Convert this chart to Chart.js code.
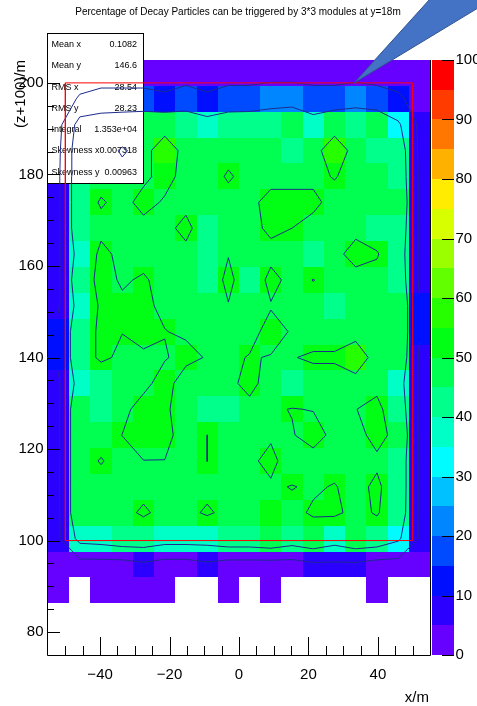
<!DOCTYPE html>
<html>
<head>
<meta charset="utf-8">
<title>Decay particles triggered by 3*3 modules</title>
<script src="https://cdn.jsdelivr.net/npm/chart.js@4.4.1/dist/chart.umd.min.js"></script>
<style>
    html, body { margin: 0; padding: 0; background: #ffffff; }
    canvas { display: block; }
</style>
</head>
<body>
<canvas id="decayMap" width="477" height="706"></canvas>
<script>
// histogram binning (x/m and (z+100)/m)
const xRange = [-55, 55];
const yRange = [75, 205];
const nBinsX = 18;
const nBinsY = 23;

// triggered percentage per bin, top row first, x running from -55 to 55 (0 = empty bin)
const percentRows = [
    [3, 3, 3, 3, 3, 3, 3, 3, 3, 3, 3, 3, 3, 3, 3, 3, 3, 3],
    [2.5, 11.5, 15, 15, 15, 12.5, 17.5, 12.5, 17.5, 17.5, 22.5, 22.5, 17.5, 17.5, 22.5, 17.5, 12.5, 4],
    [5, 38, 42, 44, 46, 46, 44, 38, 42, 43, 42, 46, 38, 46, 44, 46, 33, 7],
    [7, 44, 46, 51, 47, 55, 47, 47, 47, 47, 47, 43, 47, 55, 47, 43, 42, 7],
    [8, 44, 46, 47, 48, 53, 47, 46, 51, 47, 46, 47, 48, 50.5, 47, 46, 43, 8],
    [8, 44, 51, 47, 53, 49, 47, 46, 47, 47, 54, 53, 52, 47, 47, 47, 46, 8],
    [8, 44, 47, 47, 47, 47, 53, 43, 47, 47, 52, 50, 47, 47, 47, 43, 43, 8],
    [8, 38, 53, 47, 47, 47, 47, 43, 49.5, 47, 47, 47, 43, 47, 54, 51, 40, 8],
    [8, 44, 53, 49, 51, 47, 47, 42, 53, 42, 53, 47, 50.2, 47, 46, 46, 42, 8],
    [9, 38, 52, 51.5, 51.5, 48.5, 47, 47, 49.5, 47, 49.4, 47, 47, 42, 47, 47, 45, 11.5],
    [12.5, 44, 52, 50.2, 52, 50.2, 49, 47, 47, 47.1, 53, 49.3, 47, 47, 47, 47, 45, 11.5],
    [12.5, 44, 52, 48, 49, 49.5, 52, 49.5, 48.2, 50.5, 49.6, 49.7, 50.9, 50.9, 55, 46.5, 45, 8],
    [8, 38, 41, 47, 48, 53, 46, 47, 48.4, 52, 47, 43, 47, 47, 47, 47, 38, 8],
    [8, 47, 42, 48, 53, 51, 47, 43, 43, 48, 49, 50.3, 49.7, 47, 49.8, 53, 42, 8],
    [8, 47, 47, 50.1, 53, 52, 47, 50.05, 47, 47, 49, 49.5, 53, 48, 47, 53, 47, 8],
    [8, 47, 50.5, 47, 49.9, 49.9, 47, 50.05, 47, 48.6, 52, 46, 47, 47, 47, 48.3, 43, 8],
    [8, 47, 47, 47, 47, 47, 47, 47, 47, 47, 49, 50.3, 49, 50.5, 47, 52, 43, 8],
    [8, 47, 47, 47, 51.5, 47, 47, 51.5, 47, 47, 50, 48, 51, 52, 47, 51, 42, 8],
    [8, 36, 38, 42, 42, 38, 38, 38, 43, 43, 46, 40, 45, 38, 45, 43, 33, 9],
    [3, 3, 3, 3, 7, 3, 3, 7, 3, 3, 3, 3, 7, 7, 7, 3, 3, 3],
    [3, 0, 3, 3, 3, 3, 0, 0, 3, 0, 3, 0, 0, 0, 0, 3, 0, 0],
    [0, 0, 0, 0, 0, 0, 0, 0, 0, 0, 0, 0, 0, 0, 0, 0, 0, 0],
    [0, 0, 0, 0, 0, 0, 0, 0, 0, 0, 0, 0, 0, 0, 0, 0, 0, 0]
];

const contourLevels = [10, 30, 50];

// axis ticks
const xMajorTicks = [-40, -20, 0, 20, 40];
const yMajorTicks = [80, 100, 120, 140, 160, 180, 200];
const paletteTicks = [0, 10, 20, 30, 40, 50, 60, 70, 80, 90, 100];

// statistics box
const statNames = ['Mean x', 'Mean y', 'RMS x', 'RMS y', 'Integral', 'Skewness x', 'Skewness y'];
const statValues = ['0.1082', '146.6', '28.54', '28.23', '1.353e+04', '0.007318', '0.00963'];

// detector outline drawn over the map
const outlineX = [-50, 50, 50, -50, -50];
const outlineY = [100, 100, 200, 200, 100];

const FONT = '"Liberation Sans", Arial, sans-serif';
const xStep = (xRange[1] - xRange[0]) / nBinsX;
const yStep = (yRange[1] - yRange[0]) / nBinsY;
const xCenter = c => xRange[0] + (c + 0.5) * xStep;
const yCenter = r => yRange[0] + (r + 0.5) * yStep;
// r counts from the bottom row
const zAt = (r, c) => percentRows[nBinsY - 1 - r][c];

// 20 colour bands from violet (0) to red (100)
const paletteColor = v => {
    const band = Math.min(19, Math.floor(v / 5));
    return `hsl(${264 - band * 13.9}, 100%, 50%)`;
};

// marching squares on the bin centres, segments separated by gaps
function contourPoints(level) {
    const pts = [];
    const cross = (x1, y1, v1, x2, y2, v2) => {
        const t = (level - v1) / (v2 - v1);
        return { x: x1 + t * (x2 - x1), y: y1 + t * (y2 - y1) };
    };
    for (let r = 0; r < nBinsY - 1; r++) {
        for (let c = 0; c < nBinsX - 1; c++) {
            const x0 = xCenter(c), x1 = xCenter(c + 1);
            const y0 = yCenter(r), y1 = yCenter(r + 1);
            const a = zAt(r, c), b = zAt(r, c + 1), d = zAt(r + 1, c + 1), e = zAt(r + 1, c);
            const ia = a >= level, ib = b >= level, id = d >= level, ie = e >= level;
            const edges = {};
            if (ia !== ib) edges.bottom = cross(x0, y0, a, x1, y0, b);
            if (ib !== id) edges.right = cross(x1, y0, b, x1, y1, d);
            if (ie !== id) edges.top = cross(x0, y1, e, x1, y1, d);
            if (ia !== ie) edges.left = cross(x0, y0, a, x0, y1, e);
            const keys = Object.keys(edges);
            let pairs = [];
            if (keys.length === 2) {
                pairs = [keys];
            } else if (keys.length === 4) {
                const mid = (a + b + d + e) / 4 >= level;
                pairs = mid === ia ? [['bottom', 'right'], ['top', 'left']] : [['bottom', 'left'], ['right', 'top']];
            }
            pairs.forEach(([p, q]) => {
                pts.push(edges[p], edges[q], { x: edges[q].x, y: null });
            });
        }
    }
    return pts;
}

// bins, then the stats pave underneath the contour lines
const heatmapPlugin = {
    id: 'heatmap',
    beforeDatasetsDraw(chart) {
        const { ctx } = chart;
        const { x, y } = chart.scales;
        ctx.save();
        for (let r = 0; r < nBinsY; r++) {
            for (let c = 0; c < nBinsX; c++) {
                const v = zAt(r, c);
                if (!v) continue;
                const left = Math.round(x.getPixelForValue(xRange[0] + c * xStep));
                const right = Math.round(x.getPixelForValue(xRange[0] + (c + 1) * xStep));
                const top = Math.round(y.getPixelForValue(yRange[0] + (r + 1) * yStep));
                const bottom = Math.round(y.getPixelForValue(yRange[0] + r * yStep));
                ctx.fillStyle = paletteColor(v);
                ctx.fillRect(left, top, right - left, bottom - top);
            }
        }

        ctx.fillStyle = '#ffffff';
        ctx.fillRect(48, 34, 95, 149);
        ctx.strokeStyle = '#000000';
        ctx.lineWidth = 1;
        ctx.strokeRect(47.5, 33.5, 96, 150);
        ctx.font = `9px ${FONT}`;
        ctx.fillStyle = '#000000';
        ctx.textBaseline = 'middle';
        statNames.forEach((name, i) => {
            const ty = 44.5 + i * 21.3;
            ctx.textAlign = 'left';
            ctx.fillText(name, 51.5, ty);
            ctx.textAlign = 'right';
            ctx.fillText(statValues[i], 137, ty);
        });
        ctx.restore();
    }
};

// frame, ticks, labels, palette axis, title and the callout
const framePlugin = {
    id: 'frame',
    afterDraw(chart) {
        const { ctx, chartArea: area } = chart;
        const { x, y, z } = chart.scales;
        ctx.save();
        ctx.strokeStyle = '#000000';
        ctx.lineWidth = 1;

        ctx.beginPath();
        ctx.moveTo(area.left - 0.5, area.top);
        ctx.lineTo(area.left - 0.5, area.bottom + 0.5);
        ctx.lineTo(area.right + 0.5, area.bottom + 0.5);
        ctx.lineTo(area.right + 0.5, area.top);
        ctx.stroke();

        ctx.beginPath();
        for (let v = -50; v <= 50; v += 5) {
            const px = Math.round(x.getPixelForValue(v)) + 0.5;
            const len = xMajorTicks.includes(v) ? 18 : 9;
            ctx.moveTo(px, area.bottom);
            ctx.lineTo(px, area.bottom - len);
        }
        for (let v = 80; v <= 200; v += 5) {
            const py = Math.round(y.getPixelForValue(v)) + 0.5;
            const len = yMajorTicks.includes(v) ? 12 : 6;
            ctx.moveTo(area.left, py);
            ctx.lineTo(area.left + len, py);
        }
        ctx.stroke();

        ctx.fillStyle = '#000000';
        ctx.font = `15px ${FONT}`;
        ctx.textBaseline = 'middle';
        ctx.textAlign = 'center';
        xMajorTicks.forEach(v => {
            const label = v < 0 ? '\u2212' + Math.abs(v) : String(v);
            ctx.fillText(label, x.getPixelForValue(v), 675);
        });
        ctx.textAlign = 'right';
        yMajorTicks.forEach(v => ctx.fillText(String(v), 43.5, y.getPixelForValue(v)));

        ctx.textAlign = 'right';
        ctx.fillText('x/m', 429, 698);
        ctx.save();
        ctx.translate(21, 60);
        ctx.rotate(-Math.PI / 2);
        ctx.textAlign = 'right';
        ctx.fillText('(z+100)/m', 0, 0);
        ctx.restore();

        // palette axis
        const barLeft = 432, barRight = 454;
        for (let i = 0; i < 20; i++) {
            const top = Math.round(z.getPixelForValue((i + 1) * 5));
            const bottom = Math.round(z.getPixelForValue(i * 5));
            ctx.fillStyle = paletteColor(i * 5 + 2.5);
            ctx.fillRect(barLeft, top, barRight - barLeft, bottom - top);
        }
        ctx.beginPath();
        paletteTicks.forEach(v => {
            const py = Math.round(z.getPixelForValue(v)) + 0.5;
            ctx.moveTo(barRight, py);
            ctx.lineTo(barRight - 12, py);
        });
        ctx.stroke();
        ctx.fillStyle = '#000000';
        ctx.textAlign = 'left';
        paletteTicks.forEach(v => ctx.fillText(String(v), barRight + 1.5, z.getPixelForValue(v)));

        ctx.font = `10px ${FONT}`;
        ctx.textAlign = 'center';
        ctx.fillText('Percentage of Decay Particles can be triggered by 3*3 modules at y=18m', 238, 12);

        ctx.beginPath();
        ctx.moveTo(354, 83);
        ctx.lineTo(430, -1);
        ctx.lineTo(478, -1);
        ctx.lineTo(478, 8);
        ctx.closePath();
        ctx.fillStyle = '#4472c4';
        ctx.fill();
        ctx.strokeStyle = '#2f528f';
        ctx.stroke();
        ctx.restore();
    }
};

const ctx = document.getElementById('decayMap').getContext('2d');
const decayChart = new Chart(ctx, {
    type: 'scatter',
    data: {
        datasets: [
            {
                label: 'outline',
                data: outlineX.map((vx, i) => ({ x: vx, y: outlineY[i] })),
                showLine: true,
                borderColor: '#ff0000',
                borderWidth: 1,
                pointRadius: 0,
                tension: 0
            },
            {
                label: 'contours',
                data: contourLevels.flatMap(contourPoints),
                showLine: true,
                spanGaps: false,
                borderColor: '#1d2b8e',
                borderWidth: 1,
                pointRadius: 0,
                tension: 0
            }
        ]
    },
    options: {
        responsive: false,
        animation: false,
        layout: { padding: { left: 48, right: 47, top: 60, bottom: 51 } },
        scales: {
            x: { type: 'linear', min: xRange[0], max: xRange[1], display: false },
            y: { type: 'linear', min: yRange[0], max: yRange[1], display: false },
            z: { type: 'linear', axis: 'y', min: 0, max: 100, display: false }
        },
        plugins: {
            legend: { display: false },
            tooltip: { enabled: false }
        }
    },
    plugins: [heatmapPlugin, framePlugin]
});
</script>
</body>
</html>
